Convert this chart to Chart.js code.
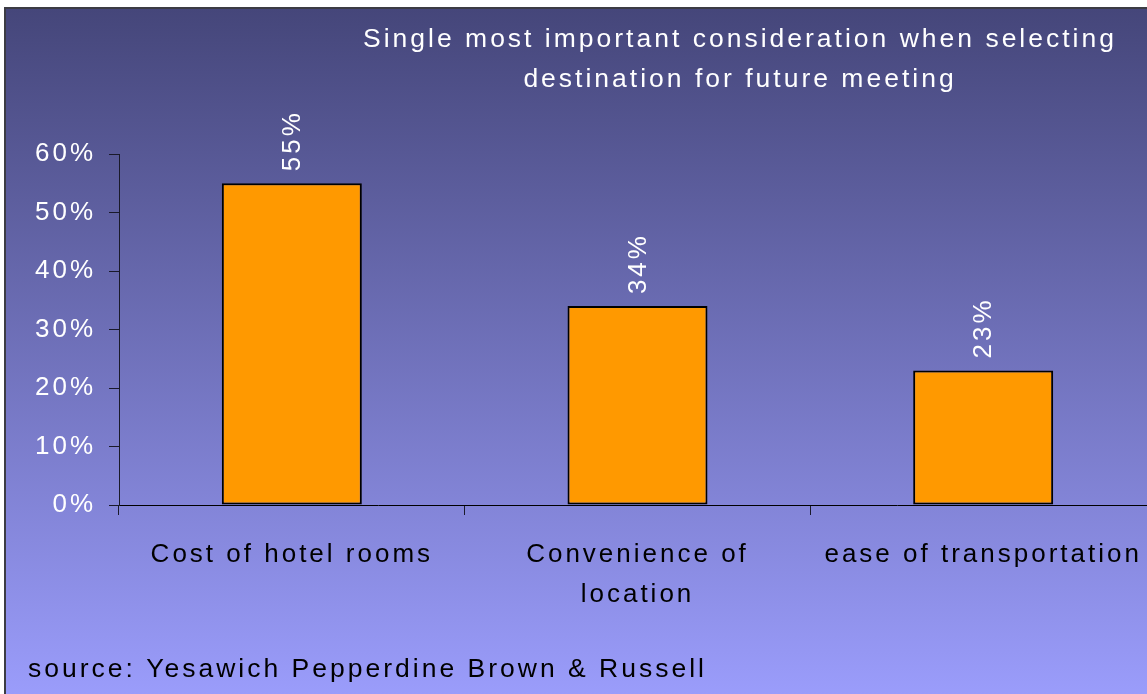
<!DOCTYPE html>
<html lang="en">
<head>
  <meta charset="UTF-8">
  <title>Single most important consideration</title>
  <script src="https://cdn.jsdelivr.net/npm/chart.js"></script>
  <style>
    html, body {
      margin: 0;
      background: #ffffff;
      overflow: hidden;
    }
    #cadre {
      position: absolute;
      left: 4px;
      top: 7px;
      width: 1150px;
      height: 690px;
      border-left: 2px solid #3c3c44;
      border-top: 2px solid #3c3c44;
      background: linear-gradient(to bottom, #45467a, #9b9dfc);
    }
    canvas {
      display: block;
    }
  </style>
</head>
<body>
  <div id="cadre">
    <canvas id="graphique" width="1150" height="690"></canvas>
  </div>

  <script>
    const categories = ["Cost of hotel rooms", ["Convenience of", "location"], "ease of transportation"];
    const valeurs = [55, 34, 23];
    const titre = ["Single most important consideration when selecting", "destination for future meeting"];
    const source = "source: Yesawich Pepperdine Brown & Russell";

    const police = "'Liberation Sans', Arial, sans-serif";
    const espacement = "3px";

    // espacement des lettres sur tout le texte du canvas
    const espaceLettres = {
      id: "espaceLettres",
      beforeUpdate(chart) { chart.ctx.letterSpacing = espacement; },
      beforeDraw(chart) { chart.ctx.letterSpacing = espacement; }
    };

    // recentre le titre au-dessus des barres
    const centreTitre = {
      id: "centreTitre",
      afterLayout(chart) {
        const t = chart.titleBlock;
        if (!t) return;
        t.left = 734 - 430;
        t.right = 734 + 430;
      }
    };

    // valeurs au-dessus des barres, écrites à la verticale
    const etiquettes = {
      id: "etiquettes",
      afterDatasetsDraw(chart) {
        const ctx = chart.ctx;
        const meta = chart.getDatasetMeta(0);
        ctx.save();
        ctx.letterSpacing = espacement;
        ctx.fillStyle = "#ffffff";
        ctx.font = "26px " + police;
        ctx.textAlign = "left";
        ctx.textBaseline = "middle";
        meta.data.forEach((barre, i) => {
          ctx.save();
          ctx.translate(barre.x + 1, barre.y - 12);
          ctx.rotate(-Math.PI / 2);
          ctx.fillText(valeurs[i] + "%", 0, 0);
          ctx.restore();
        });
        ctx.restore();
      }
    };

    const ctx = document.getElementById("graphique").getContext("2d");
    new Chart(ctx, {
      type: "bar",
      data: {
        labels: categories,
        datasets: [{
          data: valeurs,
          backgroundColor: "#ff9900",
          borderColor: "#000000",
          borderWidth: 2,
          borderSkipped: false,
          categoryPercentage: 1,
          barPercentage: 0.405
        }]
      },
      options: {
        responsive: false,
        animation: false,
        layout: { padding: { left: 22, right: 0, top: 0, bottom: 0 } },
        scales: {
          x: {
            afterFit: s => {
              s.height = 150;
              s.paddingLeft = 0;
              s.paddingRight = 0;
            },
            grid: {
              display: true,
              drawOnChartArea: false,
              drawTicks: true,
              tickLength: 10,
              color: "#1a1a2a",
              offset: true
            },
            border: { display: true, color: "#000000", width: 1 },
            ticks: {
              color: "#000000",
              padding: 20,
              maxRotation: 0,
              autoSkip: false,
              font: { family: police, size: 26, lineHeight: "40px" }
            }
          },
          y: {
            min: 0,
            max: 60,
            afterFit: s => { s.width = 91; },
            grid: {
              display: true,
              drawOnChartArea: false,
              drawTicks: true,
              tickLength: 10,
              color: "#1a1a2a"
            },
            border: { display: true, color: "#1a1a2a", width: 1 },
            ticks: {
              stepSize: 10,
              color: "#ffffff",
              padding: 13,
              font: { family: police, size: 26 },
              callback: v => v + "%"
            }
          }
        },
        plugins: {
          legend: { display: false },
          tooltip: { enabled: false },
          title: {
            display: true,
            text: titre,
            color: "#ffffff",
            font: { family: police, size: 26.5, weight: "normal", lineHeight: "40px" },
            padding: { top: 11, bottom: 54 }
          },
          subtitle: {
            display: true,
            position: "bottom",
            align: "start",
            text: source,
            color: "#000000",
            font: { family: police, size: 26.5, lineHeight: "30px" },
            padding: { top: 0, bottom: 14 }
          }
        }
      },
      plugins: [espaceLettres, centreTitre, etiquettes]
    });
  </script>
</body>
</html>
